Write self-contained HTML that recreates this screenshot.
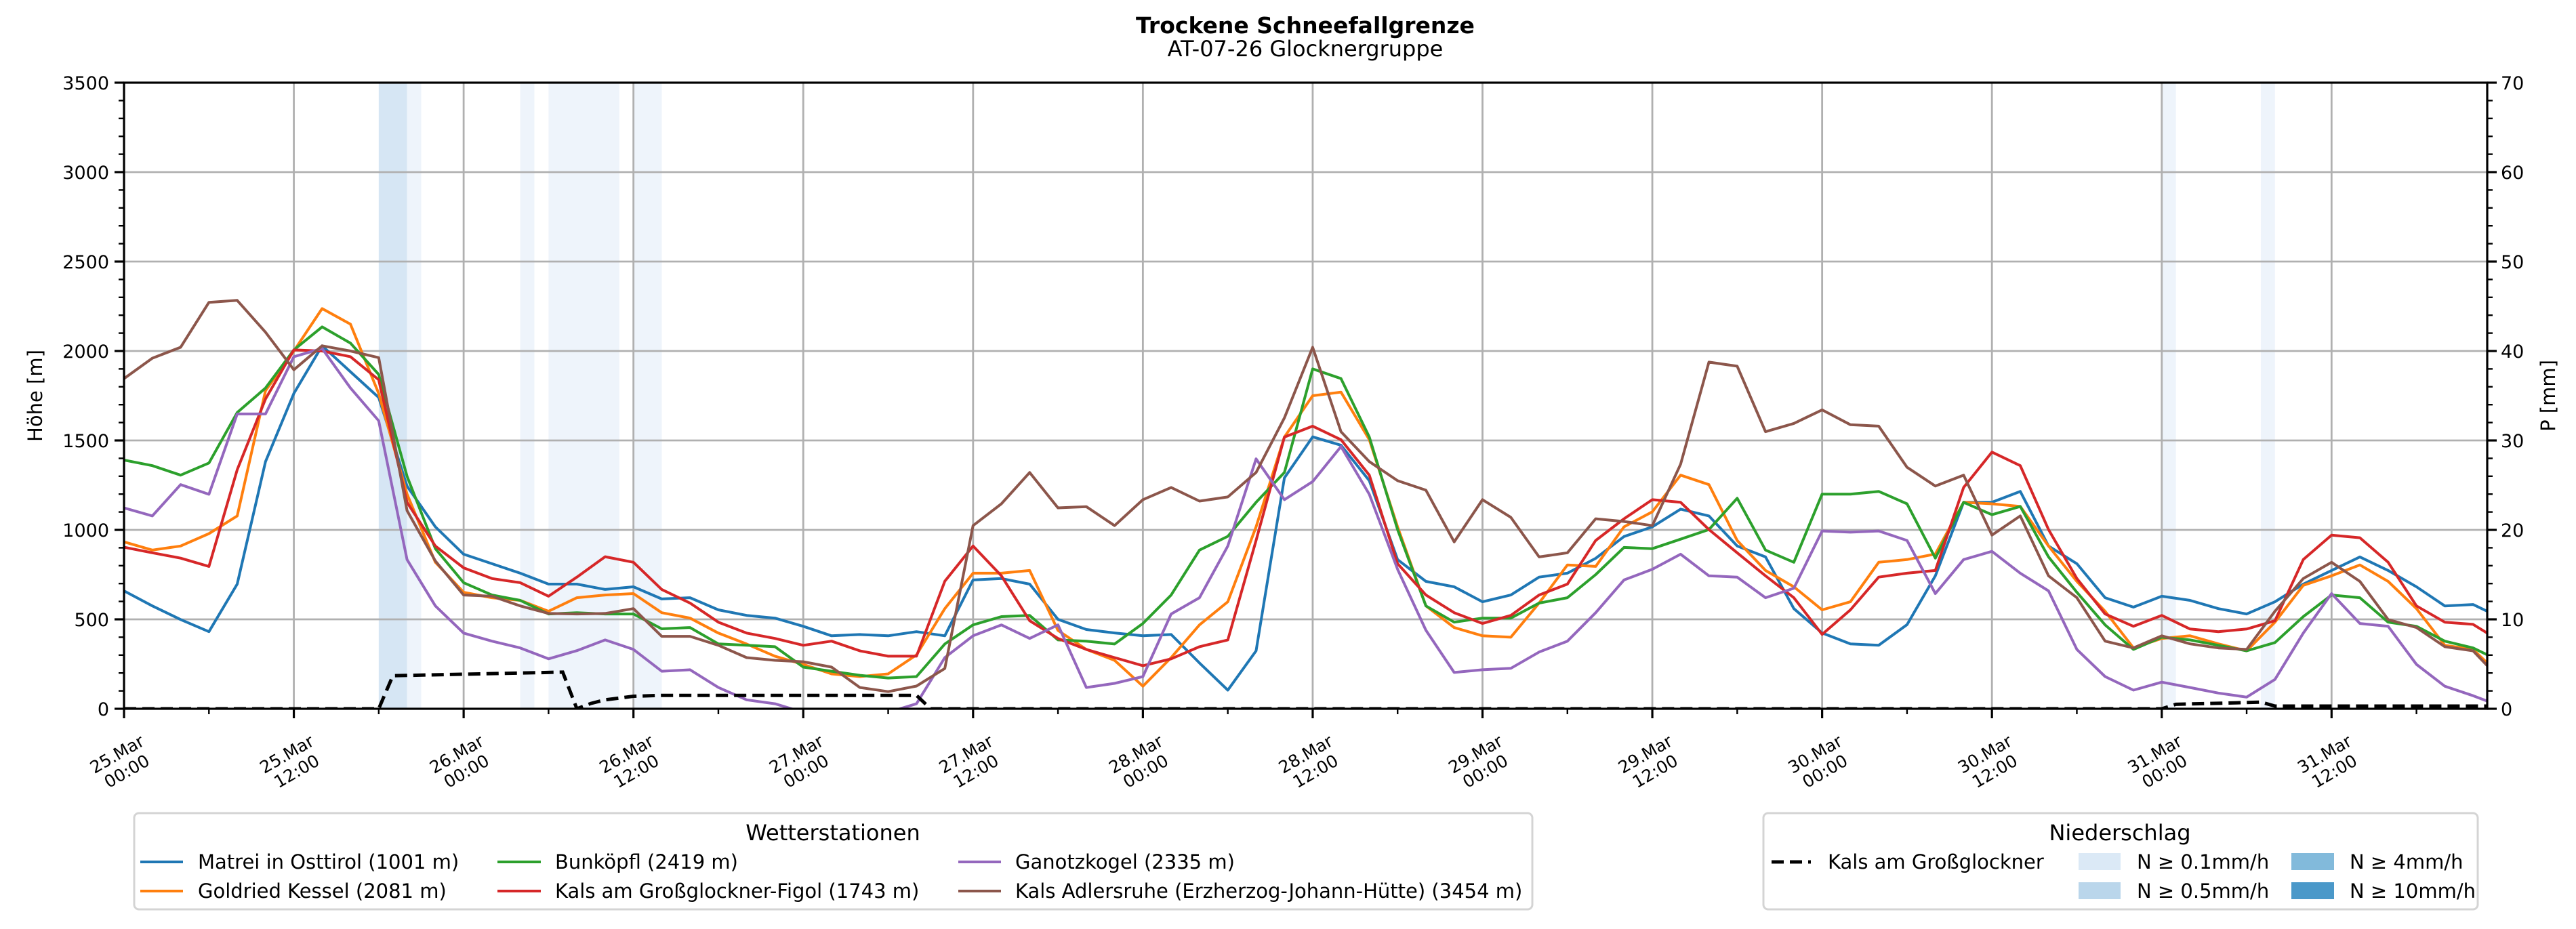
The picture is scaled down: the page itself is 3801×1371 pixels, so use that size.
<!DOCTYPE html>
<html><head><meta charset="utf-8"><title>Trockene Schneefallgrenze</title>
<style>html,body{margin:0;padding:0;background:#fff}svg{display:block;font-family:"DejaVu Sans","Liberation Sans",sans-serif}</style>
</head><body>
<svg id="chart" xmlns="http://www.w3.org/2000/svg" width="3801" height="1371" viewBox="0 0 3801 1371">
<rect width="3801" height="1371" fill="#fff"/>
<defs><clipPath id="plotclip"><rect x="183" y="122" width="3487" height="924"/></clipPath></defs>
<text x="1926" y="49" text-anchor="middle" font-size="33" font-weight="bold">Trockene Schneefallgrenze</text>
<text x="1926" y="83" text-anchor="middle" font-size="32">AT-07-26 Glocknergruppe</text>
<g id="bands" clip-path="url(#plotclip)"></g>
<g id="grid"></g>
<g id="series" clip-path="url(#plotclip)"></g>
<g id="axes"></g>
<text transform="translate(62,584) rotate(-90)" text-anchor="middle" font-size="29">Höhe [m]</text>
<text transform="translate(3770,584) rotate(-90)" text-anchor="middle" font-size="29">P [mm]</text>

<g>
<rect x="198" y="1200" width="2063" height="142" rx="7" fill="#fff" stroke="#d4d4d4" stroke-width="3"/>
<text x="1229" y="1240" text-anchor="middle" font-size="32">Wetterstationen</text>
<g><line x1="207" y1="1272" x2="270" y2="1272" stroke="#1f77b4" stroke-width="4"/><text x="292" y="1282" font-size="29">Matrei in Osttirol (1001 m)</text></g>
<g><line x1="207" y1="1315" x2="270" y2="1315" stroke="#ff7f0e" stroke-width="4"/><text x="292" y="1325" font-size="29">Goldried Kessel (2081 m)</text></g>
<g><line x1="734" y1="1272" x2="798" y2="1272" stroke="#2ca02c" stroke-width="4"/><text x="819" y="1282" font-size="29">Bunköpfl (2419 m)</text></g>
<g><line x1="734" y1="1315" x2="798" y2="1315" stroke="#d62728" stroke-width="4"/><text x="819" y="1325" font-size="29">Kals am Großglockner-Figol (1743 m)</text></g>
<g><line x1="1414" y1="1272" x2="1477" y2="1272" stroke="#9467bd" stroke-width="4"/><text x="1498" y="1282" font-size="29">Ganotzkogel (2335 m)</text></g>
<g><line x1="1414" y1="1315" x2="1477" y2="1315" stroke="#8c564b" stroke-width="4"/><text x="1498" y="1325" font-size="29">Kals Adlersruhe (Erzherzog-Johann-Hütte) (3454 m)</text></g>
</g>

<g>
<rect x="2602" y="1200" width="1054" height="142" rx="7" fill="#fff" stroke="#d4d4d4" stroke-width="3"/>
<text x="3128" y="1240" text-anchor="middle" font-size="32">Niederschlag</text>
<g><line x1="2614" y1="1272" x2="2672" y2="1272" stroke="#000" stroke-width="5" stroke-dasharray="18,9"/><text x="2697" y="1282" font-size="29">Kals am Großglockner</text></g>
<g><rect x="3067" y="1259" width="62" height="25" fill="#dbe9f6"/><text x="3153" y="1282" font-size="29">N ≥ 0.1mm/h</text></g>
<g><rect x="3067" y="1302" width="62" height="25" fill="#bad6eb"/><text x="3153" y="1325" font-size="29">N ≥ 0.5mm/h</text></g>
<g><rect x="3381" y="1259" width="63" height="25" fill="#82badb"/><text x="3467" y="1282" font-size="29">N ≥ 4mm/h</text></g>
<g><rect x="3381" y="1302" width="63" height="25" fill="#4a98c9"/><text x="3467" y="1325" font-size="29">N ≥ 10mm/h</text></g>
</g>
</svg>
<script>
// hours since 25.Mar 00:00
const hours = [0,2,4,6,8,10,12,14,16,18,20,22,24,26,28,30,32,34,36,38,40,42,44,46,48,50,52,54,56,58,60,62,64,66,68,70,72,74,76,78,80,82,84,86,88,90,92,94,96,98,100,102,104,106,108,110,112,114,116,118,120,122,124,126,128,130,132,134,136,138,140,142,144,146,148,150,152,154,156,158,160,162,164,166,167];
const matrei = [659,575,499,431,697,1382,1763,2029,1884,1740,1245,1017,864,811,758,697,697,667,682,614,621,553,522,507,461,408,415,408,431,408,720,728,697,500,443,424,408,415,256,104,324,1291,1520,1473,1275,834,712,682,598,636,736,758,841,963,1017,1116,1078,910,849,560,424,363,355,470,743,1154,1154,1215,910,811,621,568,629,606,560,530,598,697,773,849,773,682,575,583,545];
const goldried = [933,887,910,979,1078,1778,2000,2237,2150,1762,1200,819,651,621,606,545,621,636,644,537,507,423,362,294,248,195,180,195,301,560,758,758,773,438,332,271,126,286,469,598,1017,1519,1750,1770,1504,1017,575,454,408,400,591,804,796,1017,1101,1306,1253,941,773,682,553,598,819,834,865,1154,1146,1131,910,712,545,340,393,408,363,324,484,690,743,804,712,560,355,332,256];
const bunkoepfl = [1390,1359,1306,1374,1656,1793,2006,2135,2044,1869,1300,895,705,636,606,530,537,530,530,447,454,363,355,347,233,210,187,172,180,362,469,515,522,385,378,362,477,636,887,964,1154,1321,1900,1846,1519,1002,575,484,507,507,591,621,750,902,895,948,1002,1177,887,819,1200,1200,1215,1146,842,1154,1085,1131,849,651,469,332,400,385,355,324,370,515,636,621,484,461,378,340,302];
const figol = [903,872,842,796,1336,1732,2006,2000,1968,1839,1154,910,788,728,705,629,736,850,819,667,591,484,423,393,355,378,324,294,294,713,910,743,492,393,332,286,241,279,347,385,941,1519,1580,1504,1306,811,636,537,477,522,636,697,941,1062,1169,1154,1002,872,743,621,416,553,736,758,773,1237,1435,1359,1002,728,530,461,522,446,431,446,492,834,971,956,819,575,484,472,423];
const ganotzkogel = [1123,1078,1253,1199,1648,1648,1968,2014,1793,1610,834,575,423,378,340,279,325,385,332,210,218,119,50,28,-20,-40,-40,-20,28,286,408,469,393,469,119,142,180,530,621,910,1397,1169,1270,1466,1199,780,439,203,218,226,317,378,537,720,780,864,743,736,621,674,994,987,994,941,644,834,880,758,659,332,180,104,149,119,88,65,164,423,644,477,461,248,126,73,43];
const adlersruhe = [1846,1960,2021,2272,2283,2105,1895,2029,2000,1963,1108,826,636,629,575,533,530,533,560,405,405,355,286,271,263,233,119,96,127,225,1024,1146,1321,1123,1130,1024,1169,1237,1161,1184,1321,1626,2021,1549,1382,1275,1222,933,1169,1070,849,872,1062,1047,1024,1367,1938,1915,1549,1595,1671,1588,1580,1350,1245,1306,971,1078,743,621,378,340,408,363,340,332,545,728,819,712,499,454,347,324,241];
// precipitation Kals am Großglockner (mm)
const precipHours = [0,18,19,31,32,33,34,35,36,38,56,57,144,145,150,151,152,167];
const precipValues = [0,0,3.7,4.1,0,0.6,1.0,1.2,1.4,1.5,1.5,0,0,0.5,0.7,0.75,0.3,0.3];
// precipitation intensity bands: start hour, end hour, class
const bandStart = [18,20,28,30,36,144,151];
const bandEnd = [20,21,29,35,38,145,152];
const bandClass = [1,0,0,0,0,0,0];
const yTicks = [0,500,1000,1500,2000,2500,3000,3500];
const y2Ticks = [0,10,20,30,40,50,60,70];
const xTickHours = [0,12,24,36,48,60,72,84,96,108,120,132,144,156];
const xTickDays = ["25.Mar","25.Mar","26.Mar","26.Mar","27.Mar","27.Mar","28.Mar","28.Mar","29.Mar","29.Mar","30.Mar","30.Mar","31.Mar","31.Mar"];
const xTickTimes = ["00:00","12:00","00:00","12:00","00:00","12:00","00:00","12:00","00:00","12:00","00:00","12:00","00:00","12:00"];

const NS="http://www.w3.org/2000/svg";
const L=183,R=3670,T=122,B=1046,HMAX=167,VMAX=3500,PMAX=70;
const xs=h=>L+h*(R-L)/HMAX;
const ys=v=>B-v*(B-T)/VMAX;
const yp=p=>B-p*(B-T)/PMAX;
function mk(tag,parent,attrs){const e=document.createElementNS(NS,tag);for(const k in attrs)e.setAttribute(k,attrs[k]);parent.appendChild(e);return e;}

const gb=document.getElementById('bands');
const bandColors=['#eef4fb','#d6e6f4'];
bandStart.forEach((s,i)=>{
  const r=mk('rect',gb,{x:xs(s),y:T,width:xs(bandEnd[i])-xs(s),height:B-T,fill:bandColors[bandClass[i]]});
  
  
});

const gg=document.getElementById('grid');
yTicks.forEach(v=>{const l=mk('line',gg,{x1:L,x2:R,y1:ys(v),y2:ys(v),stroke:'#b0b0b0','stroke-width':2.8});
  
  });
xTickHours.forEach(h=>{const l=mk('line',gg,{x1:xs(h),x2:xs(h),y1:T,y2:B,stroke:'#b0b0b0','stroke-width':2.8});
  
  });

const gs=document.getElementById('series');
const seriesList=[[matrei,'#1f77b4','matrei'],[goldried,'#ff7f0e','goldried'],[bunkoepfl,'#2ca02c','bunkoepfl'],[figol,'#d62728','kals-figol'],[ganotzkogel,'#9467bd','ganotzkogel'],[adlersruhe,'#8c564b','adlersruhe']];
seriesList.forEach(s=>{
  const pts=s[0].map((v,i)=>xs(hours[i]).toFixed(1)+','+ys(v).toFixed(1)).join(' ');
  const p=mk('polyline',gs,{points:pts,fill:'none',stroke:s[1],'stroke-width':4,'stroke-linejoin':'round'});
  
  
});
const ppts=precipValues.map((v,i)=>xs(precipHours[i]).toFixed(1)+','+yp(v).toFixed(1)).join(' ');
const pl=mk('polyline',gs,{points:ppts,fill:'none',stroke:'#000','stroke-width':5,'stroke-dasharray':'18,9'});



const ga=document.getElementById('axes');
mk('rect',ga,{x:L,y:T,width:R-L,height:B-T,fill:'none',stroke:'#000','stroke-width':3.2});
for(let v=0;v<=VMAX;v+=100){const maj=v%500===0;mk('line',ga,{x1:L,x2:L-(maj?14:8),y1:ys(v),y2:ys(v),stroke:'#000','stroke-width':maj?3.2:2.4});}
yTicks.forEach(v=>{const t=mk('text',ga,{x:L-22,y:ys(v)+10,'text-anchor':'end','font-size':27});t.textContent=v;
  
  });
for(let p=0;p<=PMAX;p+=2){const maj=p%10===0;mk('line',ga,{x1:R,x2:R+(maj?14:8),y1:yp(p),y2:yp(p),stroke:'#000','stroke-width':maj?3.2:2.4});}
y2Ticks.forEach(p=>{const t=mk('text',ga,{x:R+20,y:yp(p)+10,'font-size':27});t.textContent=p;
  
  });
for(let h=0;h<=HMAX;h+=6){const maj=h%12===0;mk('line',ga,{x1:xs(h),x2:xs(h),y1:B,y2:B+(maj?14:8),stroke:'#000','stroke-width':maj?3.2:2.4});}
xTickHours.forEach((h,i)=>{
  const t=mk('text',ga,{transform:'translate('+(xs(h)-4)+',1124) rotate(-30)','text-anchor':'middle','font-size':25});
  
  
  const a=mk('tspan',t,{x:0,dy:-4});a.textContent=xTickDays[i];
  const b=mk('tspan',t,{x:0,dy:29});b.textContent=xTickTimes[i];
});
</script>
</body></html>
